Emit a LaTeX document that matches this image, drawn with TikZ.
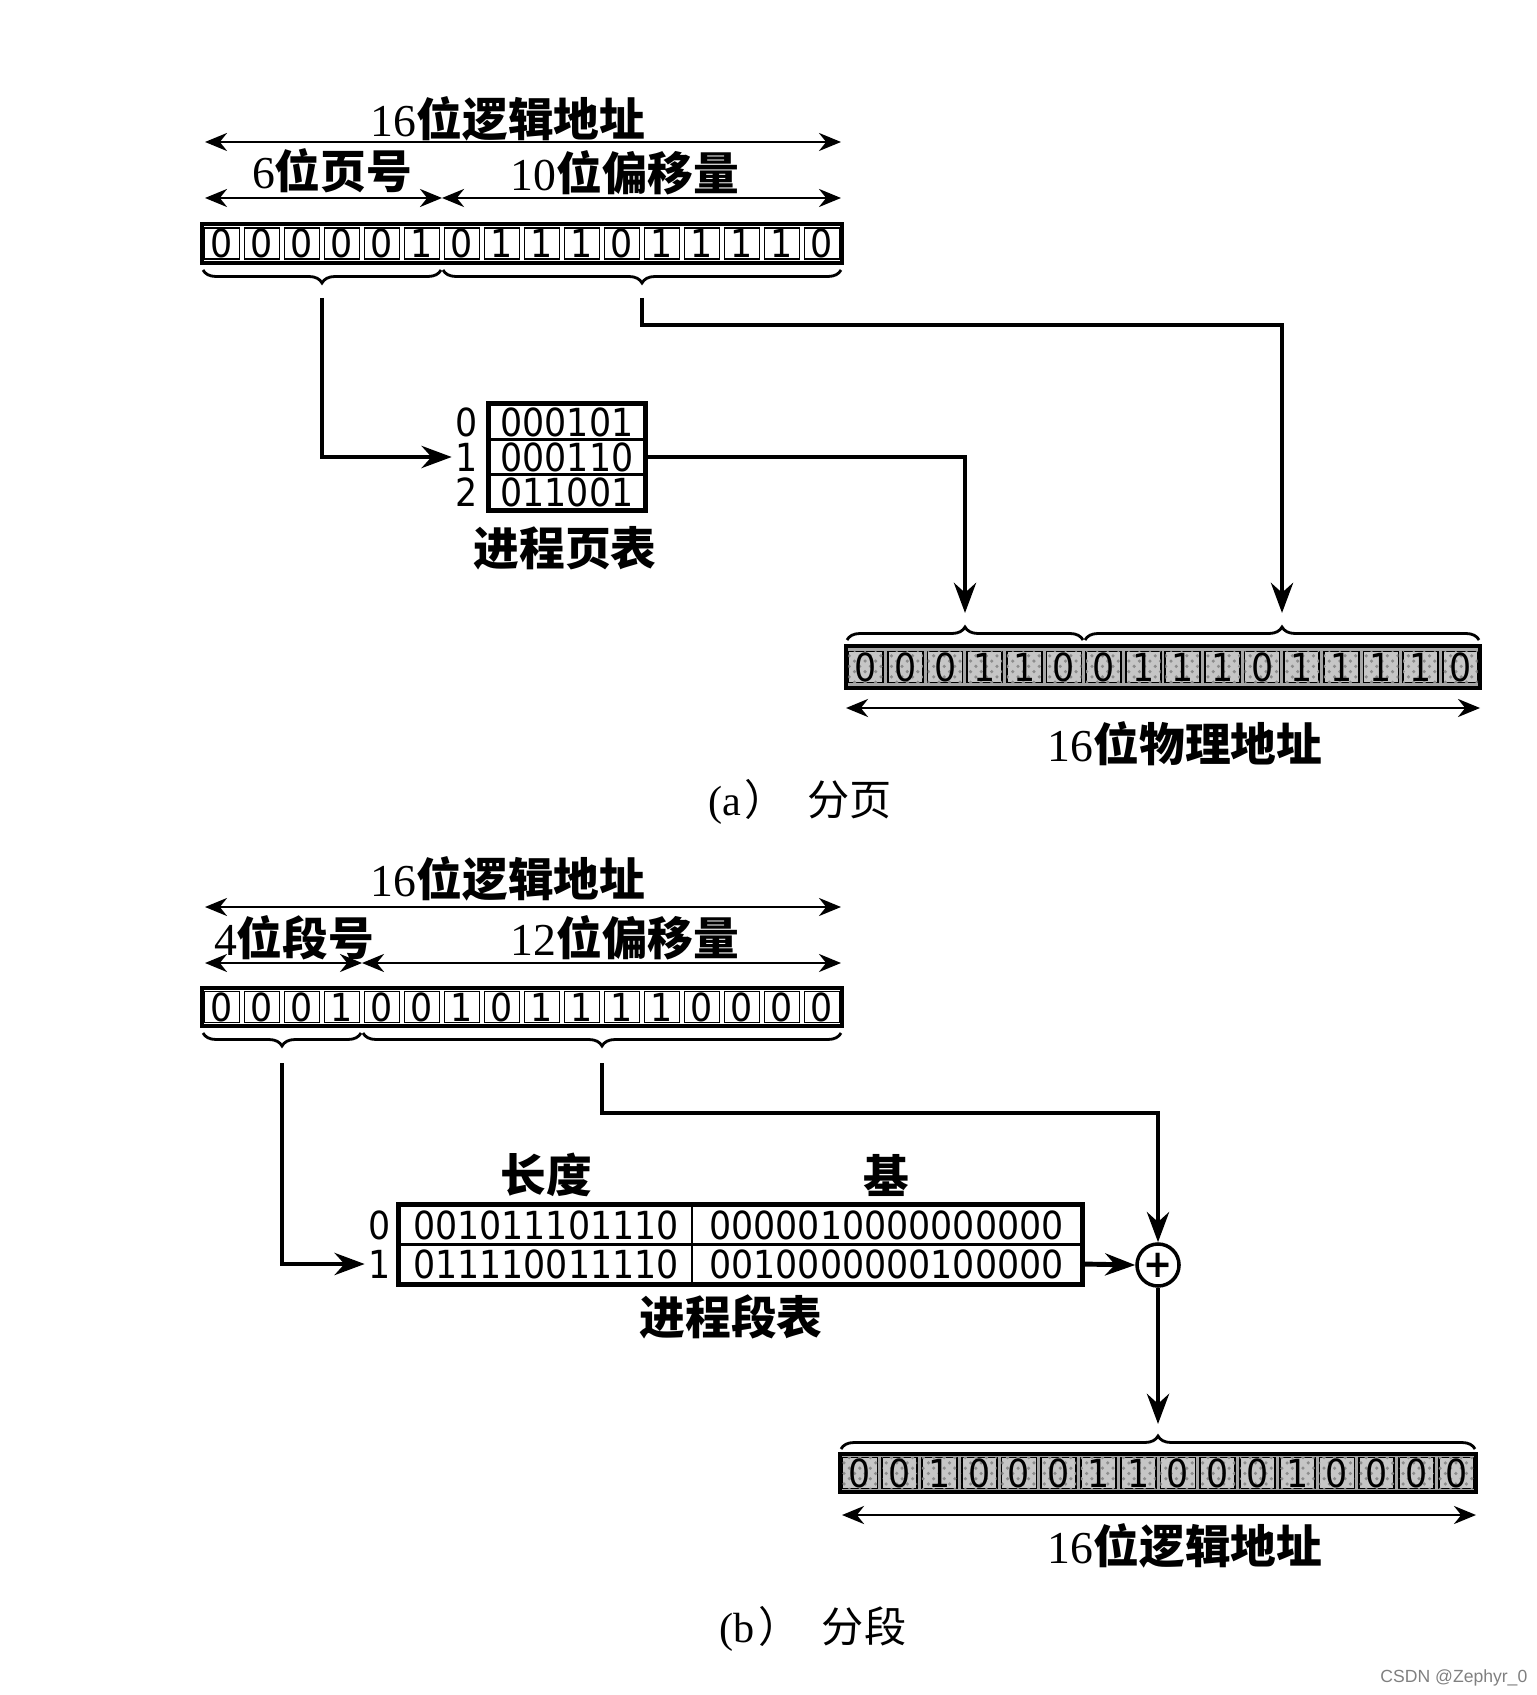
\documentclass[tikz,border=0pt]{standalone}
\usepackage{fontspec}
\setmainfont{Liberation Serif}
\newfontfamily\cjk{Noto Sans CJK SC}
\newfontfamily\bitfont{DejaVu Sans}[FakeStretch=0.9]
\newfontfamily\wmfont{Liberation Sans}
\usetikzlibrary{arrows.meta, decorations.pathreplacing, patterns}

\newcommand{\zh}[1]{{\cjk\bfseries #1}}

\tikzset{
  cell/.style={draw, line width=0.5pt, minimum width=0.35cm, minimum height=0.31cm,
    inner sep=0pt, font=\fontsize{11pt}{12pt}\selectfont\bitfont},
  graycell/.style={cell, fill=gray!45, postaction={pattern=crosshatch dots, pattern color=gray!90}},
  tcell/.style={draw, line width=0.6pt, inner sep=0pt, minimum height=0.35cm,
    font=\fontsize{11pt}{12pt}\selectfont\bitfont},
  idx/.style={inner sep=1pt, font=\fontsize{11pt}{12pt}\selectfont\bitfont},
  frame/.style={line width=1.4pt},
  lbl/.style={inner sep=0pt, font=\fontsize{13pt}{15pt}\selectfont},
  caption/.style={inner sep=0pt, font=\fontsize{12pt}{14pt}\selectfont},
  dim/.style={line width=0.8pt, {Stealth[length=2.2mm,width=1.8mm]}-{Stealth[length=2.2mm,width=1.8mm]}},
  conn/.style={line width=1.4pt, -{Stealth[length=3mm,width=2.2mm]}},
  brc/.style={line width=0.8pt, decorate, decoration={brace, amplitude=0.13cm}},
  adder/.style={draw, circle, line width=1pt, minimum size=0.42cm, inner sep=0pt,
    font=\fontsize{11pt}{11pt}\selectfont\bfseries\bitfont}
}

\begin{document}
\begin{tikzpicture}[x=0.01cm, y=-0.01cm]
  \useasboundingbox (0,0) rectangle (1536,1695);

  % (a) paging
  \begin{scope}
    % logical address and its parts
    \node[lbl] (laTitle) at (508,119) {16\zh{位逻辑地址}};
    \draw[dim] (205,142) -- (841,142);
    \node[lbl] (laPage) at (332,171) {6\zh{位页号}};
    \node[lbl] (laOff) at (625,173) {10\zh{位偏移量}};
    \draw[dim] (205,198) -- (442,198);
    \draw[dim] (442,198) -- (841,198);

    % 16 bits of the logical address
    \draw[frame] (202,224) rectangle (842,263);
    \foreach \b [count=\i from 0] in {0,0,0,0,0,1,0,1,1,1,0,1,1,1,1,0} {
      \node[cell] (la\i) at ({222+40*\i},243.5) {\b};
    }
    \draw[brc, decoration={mirror}] (203,270) -- (441,270);
    \draw[brc, decoration={mirror}] (443,270) -- (841,270);
    \coordinate (pgTip) at (322,298);
    \coordinate (ofTip) at (642,298);

    % page table
    \foreach \r/\v in {0/000101,1/000110,2/011001} {
      \pgfmathsetmacro{\ry}{422+35*\r}
      \node[tcell, minimum width=1.54cm] (pt\r) at (567,\ry) {\v};
      \node[idx] (pi\r) at (467,\ry) {\r};
    }
    \draw[frame] (pt0.north west) rectangle (pt2.south east);
    \node[lbl] (ptName) at (565,548) {\zh{进程页表}};

    % 16 bits of the physical address
    \draw[frame, fill=gray!70] (846,646) rectangle (1480,688);
    \foreach \b [count=\i from 0] in {0,0,0,1,1,0,0,1,1,1,0,1,1,1,1,0} {
      \pgfmathsetmacro{\cx}{846+39.625*(\i+0.5)}
      \node[graycell] (pa\i) at (\cx,667) {\b};
    }
    \draw[brc] (847,640) -- (1083,640);
    \draw[brc] (1085,640) -- (1479,640);
    \coordinate (paTipL) at (965,613);
    \coordinate (paTipR) at (1282,613);
    \coordinate (bendA) at (1282,325);
    \draw[dim] (846,708) -- (1480,708);
    \node[lbl] (paTitle) at (1185,744) {16\zh{位物理地址}};

    % connectors
    \draw[conn] (pgTip) |- (pi1.west);
    \draw[conn] (pt1.east) -| (paTipL);
    \draw[conn] (ofTip) |- (bendA) -- (paTipR);

    \node[caption] (capA) at (800,802) {(a\kern1pt{\cjk ）}\kern6pt{\cjk 分页}};
  \end{scope}

  % (b) segmentation
  \begin{scope}
    % logical address and its parts
    \node[lbl] (slTitle) at (508,879) {16\zh{位逻辑地址}};
    \draw[dim] (205,907) -- (841,907);
    \node[lbl] (slSeg) at (294,938) {4\zh{位段号}};
    \node[lbl] (slOff) at (625,938) {12\zh{位偏移量}};
    \draw[dim] (205,963) -- (362,963);
    \draw[dim] (362,963) -- (841,963);

    % 16 bits of the logical address
    \draw[frame] (202,988) rectangle (842,1026);
    \foreach \b [count=\i from 0] in {0,0,0,1,0,0,1,0,1,1,1,1,0,0,0,0} {
      \node[cell] (sl\i) at ({222+40*\i},1007) {\b};
    }
    \draw[brc, decoration={mirror}] (203,1033) -- (361,1033);
    \draw[brc, decoration={mirror}] (363,1033) -- (841,1033);
    \coordinate (sgTip) at (282,1063);
    \coordinate (soTip) at (602,1063);

    % segment table
    \node[lbl] (stLen) at (546,1175) {\zh{长度}};
    \node[lbl] (stBase) at (886,1175) {\zh{基}};
    \node[tcell, minimum width=2.92cm, minimum height=0.39cm] (sg00) at (546,1225) {001011101110};
    \node[tcell, minimum width=3.89cm, minimum height=0.39cm] (sg01) at (886.5,1225) {0000010000000000};
    \node[tcell, minimum width=2.92cm, minimum height=0.39cm] (sg10) at (546,1264) {011110011110};
    \node[tcell, minimum width=3.89cm, minimum height=0.39cm] (sg11) at (886.5,1264) {0010000000100000};
    \draw[frame] (sg00.north west) rectangle (sg11.south east);
    \node[idx] (si0) at (380,1225) {0};
    \node[idx] (si1) at (380,1264) {1};
    \node[lbl] (stName) at (731,1317) {\zh{进程段表}};

    % adder
    \node[adder] (add) at (1158,1265) {+};
    \coordinate (bendB) at (1158,1113);

    % 16 bits of the resulting address
    \draw[frame, fill=gray!70] (840,1454) rectangle (1476,1492);
    \foreach \b [count=\i from 0] in {0,0,1,0,0,0,1,1,0,0,0,1,0,0,0,0} {
      \pgfmathsetmacro{\cx}{840+39.75*(\i+0.5)}
      \node[graycell] (sr\i) at (\cx,1473) {\b};
    }
    \draw[brc] (841,1449) -- (1475,1449);
    \coordinate (srTip) at (1158,1424);
    \draw[dim] (842,1515) -- (1476,1515);
    \node[lbl] (srTitle) at (1185,1546) {16\zh{位逻辑地址}};

    % connectors
    \draw[conn] (sgTip) |- (si1.west);
    \draw[conn] (soTip) |- (bendB) -- (add.north);
    \draw[conn] (sg11.east) -- (add.west);
    \draw[conn] (add.south) -- (srTip);

    \node[caption] (capB) at (813,1629) {(b\kern1pt{\cjk ）}\kern6pt{\cjk 分段}};
  \end{scope}

  \node[text=gray, inner sep=0pt, anchor=east, font=\fontsize{5pt}{6pt}\selectfont\wmfont] (wm) at (1528,1678) {CSDN @Zephyr\_0};
\end{tikzpicture}
\end{document}
